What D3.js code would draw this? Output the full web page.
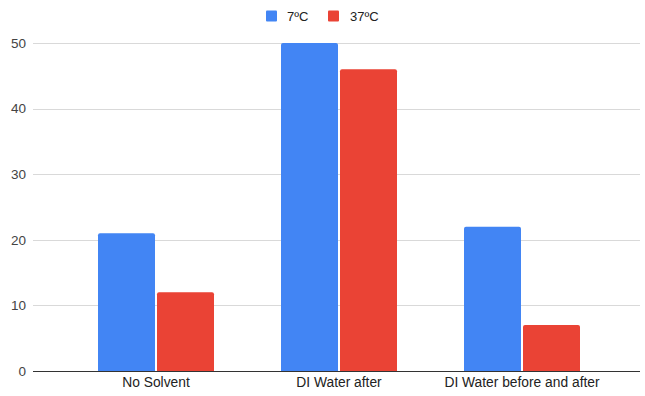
<!DOCTYPE html>
<html>
<head>
<meta charset="utf-8">
<script src="https://cdn.jsdelivr.net/npm/d3@7"></script>
<style>
  html, body { margin: 0; padding: 0; background: #fff; }
  svg { display: block; font-family: "Liberation Sans", Arial, sans-serif; }
</style>
</head>
<body>
<svg id="chart" width="645" height="396"></svg>
<script>
const categories = ["No Solvent", "DI Water after", "DI Water before and after"];
const seriesNames = ["7ºC", "37ºC"];
const series7 = [21, 50, 22];
const series37 = [12, 46, 7];
const yTicks = [0, 10, 20, 30, 40, 50];
const colors = ["#4285f4", "#ea4335"];

const svg = d3.select("#chart");
const plot = { left: 33, right: 640, top: 43, bottom: 371 };

const y = d3.scaleLinear().domain([0, 50]).range([plot.bottom, plot.top]);
const x = d3.scaleBand().domain(categories).range([64.5, 613.5]).paddingInner(0).paddingOuter(0);
const xs = d3.scaleBand().domain(seriesNames).range([33.5, x.bandwidth() - 33.5]).paddingInner(2 / 59).paddingOuter(0);

// gridlines
svg.append("g")
  .selectAll("line")
  .data(yTicks.filter(d => d !== 0))
  .join("line")
  .attr("x1", plot.left).attr("x2", plot.right)
  .attr("y1", d => Math.round(y(d)) + 0.5).attr("y2", d => Math.round(y(d)) + 0.5)
  .attr("stroke", "#d9d9d9").attr("stroke-width", 1);

// y axis labels
const yAxis = d3.axisLeft(y).tickValues(yTicks).tickSize(0).tickPadding(0);
const yg = svg.append("g").attr("transform", `translate(${plot.left - 7},0)`).call(yAxis);
yg.select(".domain").remove();
yg.selectAll("text").attr("font-size", 13.5).attr("fill", "#444").attr("font-family", "Liberation Sans, Arial, sans-serif");

// bars
const data = categories.map((c, i) => ({ cat: c, vals: [series7[i], series37[i]] }));
const groups = svg.append("g").selectAll("g").data(data).join("g")
  .attr("transform", d => `translate(${x(d.cat)},0)`);
groups.selectAll("path")
  .data(d => d.vals.map((v, j) => ({ name: seriesNames[j], v, j })))
  .join("path")
  .attr("fill", d => colors[d.j])
  .attr("d", d => {
    const x0 = xs(d.name), w = xs.bandwidth();
    const y0 = y(d.v), y1 = y(0), r = 2;
    return `M${x0},${y1} L${x0},${y0 + r} Q${x0},${y0} ${x0 + r},${y0} L${x0 + w - r},${y0} Q${x0 + w},${y0} ${x0 + w},${y0 + r} L${x0 + w},${y1} Z`;
  });

// baseline
svg.append("line")
  .attr("x1", plot.left).attr("x2", plot.right)
  .attr("y1", Math.round(y(0)) + 0.5).attr("y2", Math.round(y(0)) + 0.5)
  .attr("stroke", "#333").attr("stroke-width", 1);

// x axis labels
const xAxis = d3.axisBottom(x).tickSize(0).tickPadding(0);
const xg = svg.append("g").attr("transform", `translate(0,${plot.bottom + 6})`).call(xAxis);
xg.select(".domain").remove();
xg.selectAll("text").attr("font-size", 13.8).attr("fill", "#222").attr("font-family", "Liberation Sans, Arial, sans-serif");

// legend
const legend = svg.append("g");
const legendItems = [
  { name: seriesNames[0], color: colors[0], x: 266, tx: 287 },
  { name: seriesNames[1], color: colors[1], x: 328, tx: 350 }
];
legendItems.forEach(it => {
  legend.append("rect").attr("x", it.x).attr("y", 10.5).attr("width", 11).attr("height", 11).attr("rx", 1).attr("fill", it.color);
  legend.append("text").attr("x", it.tx).attr("y", 20.7).attr("font-size", 13).attr("fill", "#222").text(it.name);
});
</script>
</body>
</html>
